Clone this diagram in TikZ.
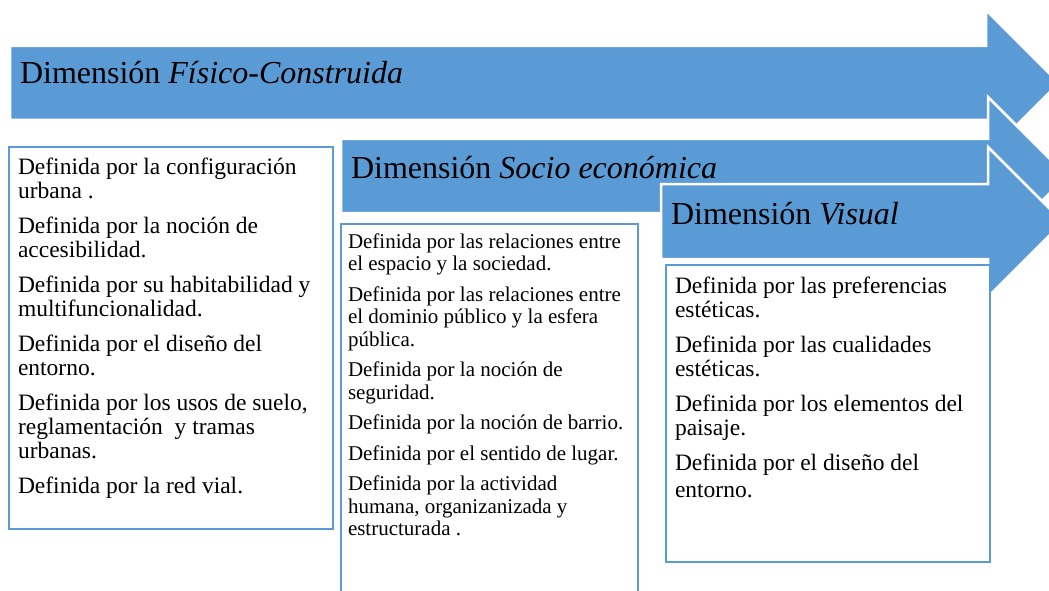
\documentclass[tikz,border=0pt]{standalone}
\usepackage{fontspec}
\setmainfont{Liberation Serif}
\definecolor{ablue}{HTML}{5B9BD5}
\begin{document}
\begin{tikzpicture}[x=1pt,y=-1pt,
  arrowshape/.style={fill=ablue, draw=white, line width=2.5pt, line join=miter},
  titletext/.style={anchor=base west, inner sep=0pt, outer sep=0pt, font=\fontsize{32}{38}\selectfont},
  boxframe/.style={draw=ablue, line width=2pt, fill=white, anchor=north west, inner sep=0pt, outer sep=0pt},
  bigtext/.style={anchor=north west, inner sep=0pt, outer sep=0pt, align=left, font=\fontsize{23.5}{24}\selectfont},
  smalltext/.style={anchor=north west, inner sep=0pt, outer sep=0pt, align=left, font=\fontsize{21}{22.5}\selectfont},
]
\useasboundingbox (0,0) rectangle (1049,591);
\clip (0,0) rectangle (1049,591);

% Arrow 1
\path[arrowshape] (10,46) -- (986,46) -- (986,10) -- (1059,83) -- (986,156) -- (986,120) -- (10,120) -- cycle;
\node[titletext] (t1) at (20,84) {Dimensión \textit{Físico-Construida}};

% Box 1
\node[boxframe, minimum width=324pt, minimum height=382pt] (b1) at (9,147) {};
\node[bigtext] (x1) at (18,158) {%
Definida por la configuración\\
urbana .\\[11pt]
Definida por la noción de\\
accesibilidad.\\[11pt]
Definida por su habitabilidad y\\
multifuncionalidad.\\[11pt]
Definida por el diseño del\\
entorno.\\[11pt]
Definida por los usos de suelo,\\
reglamentación\ \ y tramas\\
urbanas.\\[11pt]
Definida por la red vial.};

% Arrow 2
\path[arrowshape] (341,139) -- (988,139) -- (988,97) -- (1067,176) -- (988,255) -- (988,213) -- (341,213) -- cycle;
\node[titletext] (t2) at (351,178) {Dimensión \textit{Socio económica}};

% Box 2
\node[boxframe, minimum width=297pt, minimum height=400pt] (b2) at (341,224) {};
\node[smalltext] (x2) at (348,233.7) {%
Definida por las relaciones entre\\
el espacio y la sociedad.\\[8pt]
Definida por las relaciones entre\\
el dominio público y la esfera\\
pública.\\[8pt]
Definida por la noción de\\
seguridad.\\[8pt]
Definida por la noción de barrio.\\[8pt]
Definida por el sentido de lugar.\\[8pt]
Definida por la actividad\\
humana, organizanizada y\\
estructurada .};

% Arrow 3
\path[arrowshape] (661,184) -- (988,184) -- (988,147) -- (1063,222) -- (988,297) -- (988,259) -- (661,259) -- cycle;
\node[titletext] (t3) at (671,224) {Dimensión \textit{Visual}};

% Box 3
\node[boxframe, minimum width=324pt, minimum height=297pt] (b3) at (666,265) {};
\node[bigtext] (x3) at (675,277) {%
Definida por las preferencias\\
estéticas.\\[11pt]
Definida por las cualidades\\
estéticas.\\[11pt]
Definida por los elementos del\\
paisaje.\\[11pt]
Definida por el diseño del\\[3pt]
entorno.};
\end{tikzpicture}
\end{document}
